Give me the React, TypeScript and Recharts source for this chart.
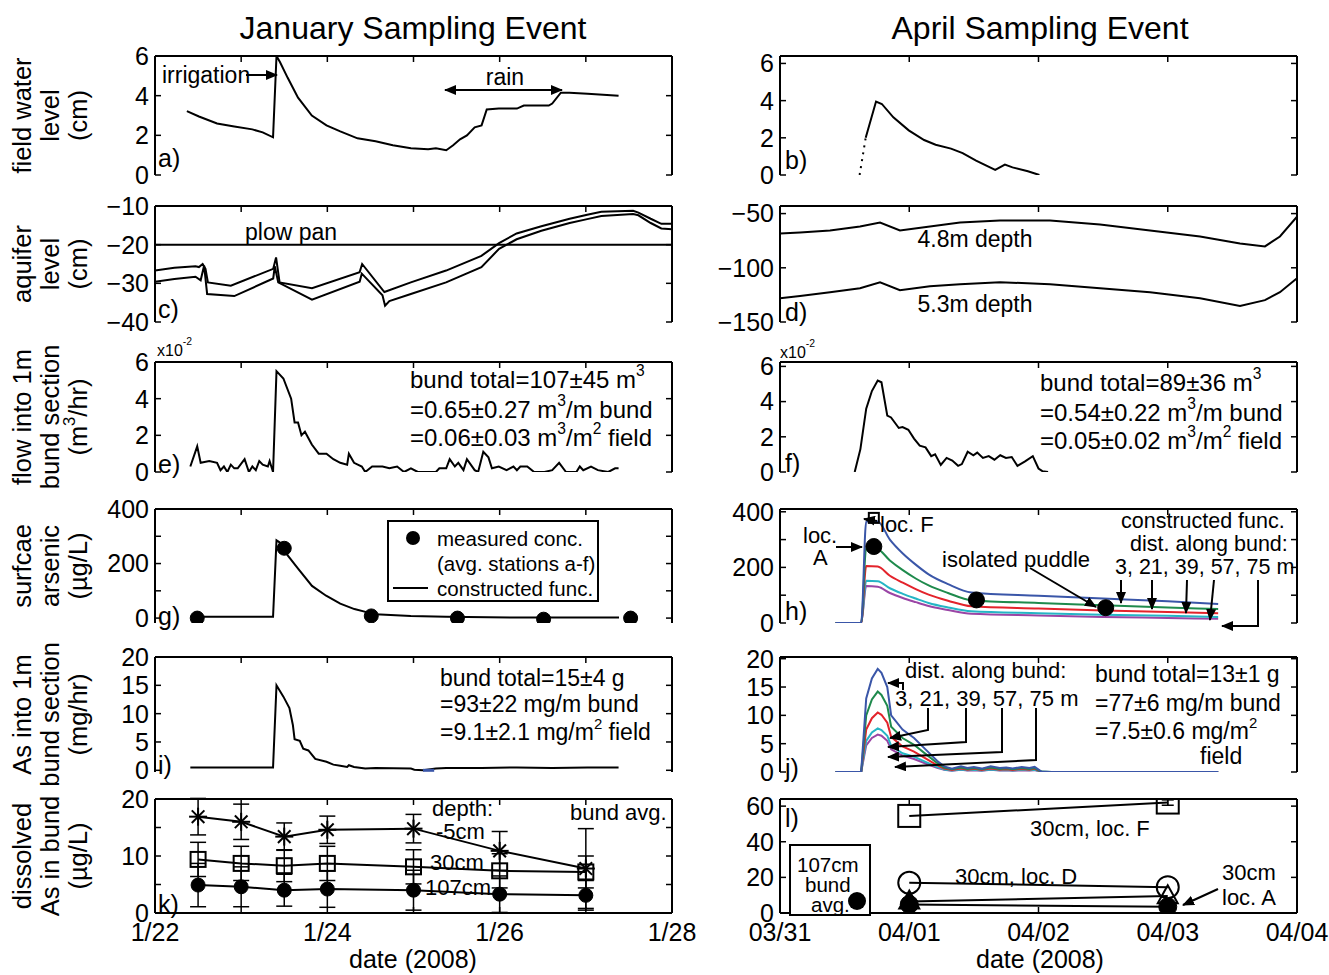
import React from "react";
import { ComposedChart, Line, XAxis, YAxis, ErrorBar, ReferenceLine } from "recharts";

const FONT = "'Liberation Sans', Arial, Helvetica, sans-serif";
const INK = "#000";
const BLUE = "#3a56a8";
const GREEN = "#1e8a4c";
const RED = "#e3232b";
const CYAN = "#25b5c5";
const PURPLE = "#9a45a5";

// ---------- January (x = days after 1/22 00:00) ----------
const janTicks = [0, 1, 2, 3, 4, 5, 6];
const janTickLabels: Record<number, string> = { 0: "1/22", 2: "1/24", 4: "1/26", 6: "1/28" };

// a) field water level (cm)
const aDay = [0.37, 0.51, 0.72, 0.92, 1.13, 1.25, 1.37, 1.41, 1.45, 1.54, 1.66, 1.82, 1.99, 2.15, 2.35, 2.56, 2.76, 2.97, 3.17, 3.26, 3.38, 3.46, 3.54, 3.62, 3.71, 3.79, 3.85, 3.99, 4.2, 4.28, 4.57, 4.61, 4.71, 4.81, 5.02, 5.38];
const aCm = [3.22, 2.95, 2.6, 2.45, 2.3, 2.15, 1.9, 6.0, 5.7, 4.9, 3.9, 3.0, 2.5, 2.2, 1.85, 1.7, 1.5, 1.35, 1.3, 1.35, 1.25, 1.5, 1.8, 2.0, 2.4, 2.5, 3.3, 3.35, 3.35, 3.5, 3.5, 3.6, 4.15, 4.15, 4.1, 4.0];

// c) aquifer level (cm), two piezometers
const cUpDay = [0, 0.225, 0.47, 0.51, 0.553, 0.586, 0.614, 0.88, 1.372, 1.405, 1.446, 1.822, 2.375, 2.404, 2.662, 2.969, 3.378, 3.788, 3.993, 4.197, 4.484, 4.812, 5.016, 5.18, 5.549, 5.61, 5.753, 5.876, 6.0];
const cUpCm = [-26.7, -26.0, -25.6, -25.8, -25.0, -26.25, -29.75, -30.6, -26.25, -23.3, -29.75, -31.25, -27.1, -25.0, -32.25, -29.75, -26.7, -22.9, -19.6, -17.1, -15.25, -13.3, -12.25, -11.5, -11.25, -11.7, -13.3, -14.6, -14.6];
const cLoDay = [0, 0.225, 0.47, 0.53, 0.57, 0.605, 0.92, 1.372, 1.39, 1.43, 1.822, 2.375, 2.4, 2.64, 2.67, 2.72, 2.969, 3.378, 3.788, 3.993, 4.197, 4.484, 4.812, 5.016, 5.18, 5.549, 5.61, 5.753, 5.876, 6.0];
const cLoCm = [-29.6, -28.9, -28.3, -29.2, -25.4, -32.75, -33.3, -28.75, -25.6, -29.75, -34.2, -29.6, -27.5, -33.1, -35.8, -34.6, -32.75, -29.75, -25.8, -21.1, -18.6, -16.4, -14.4, -13.4, -12.6, -12.1, -12.4, -14.4, -15.8, -16.0];
const plowPan = -20;

// e) flow into 1 m bund section (x1e-2 m3/hr)
const eDay = [0.41, 0.49, 0.53, 0.63, 0.72, 0.76, 0.8, 0.84, 0.88, 0.92, 0.96, 1.04, 1.09, 1.13, 1.17, 1.21, 1.25, 1.31, 1.33, 1.37, 1.41, 1.49, 1.58, 1.62, 1.66, 1.7, 1.74, 1.82, 1.9, 1.99, 2.07, 2.15, 2.23, 2.25, 2.31, 2.4, 2.44, 2.52, 2.64, 2.72, 2.81, 2.89, 2.97, 3.05, 3.13, 3.21, 3.26, 3.3, 3.38, 3.42, 3.48, 3.52, 3.58, 3.62, 3.71, 3.75, 3.81, 3.87, 3.91, 3.99, 4.08, 4.16, 4.2, 4.24, 4.32, 4.4, 4.52, 4.61, 4.69, 4.77, 4.89, 4.93, 4.97, 5.06, 5.14, 5.26, 5.34, 5.38];
const eFlow = [0.3, 1.4, 0.5, 0.6, 0.5, 0.1, 0.3, 0.0, 0.4, 0.2, 0.2, 0.7, 0.0, 0.3, 0.1, 0.6, 0.4, 0.3, 0.6, 0.0, 5.5, 5.1, 4.0, 2.7, 2.7, 2.0, 2.2, 1.5, 1.0, 1.0, 0.7, 0.5, 0.4, 1.0, 0.5, 0.3, 0.0, 0.3, 0.3, 0.2, 0.3, 0.0, 0.2, 0.0, 0.0, 0.0, 0.0, 0.2, 0.2, 0.7, 0.3, 0.5, 0.1, 0.7, 0.1, 0.0, 1.1, 0.8, 0.2, 0.3, 0.1, 0.3, 0.1, 0.3, 0.3, 0.0, 0.0, 0.1, 0.5, 0.0, 0.0, 0.3, 0.1, 0.3, 0.1, 0.0, 0.2, 0.2];

// g) surface arsenic (ug/L)
const gFuncDay = [0.49, 1.37, 1.41, 1.454, 1.54, 1.658, 1.822, 1.986, 2.15, 2.314, 2.477, 2.559, 2.969, 3.378, 4.197, 5.385];
const gFuncUg = [5, 5, 285, 276, 230, 182, 118, 82, 53, 33, 20, 14, 8, 5, 2, 2];
const gMeasDay = [0.49, 1.5, 2.51, 3.51, 4.51, 5.52];
const gMeasUg = [0, 256, 8, 0, -4, 0];

// i) As into 1 m bund section (mg/hr)
const iDay = [0.41, 1.33, 1.37, 1.41, 1.49, 1.56, 1.6, 1.62, 1.68, 1.72, 1.78, 1.86, 1.99, 2.07, 2.15, 2.23, 2.25, 2.31, 2.44, 2.56, 2.97, 3.01, 3.11, 3.26, 3.38, 3.79, 4.2, 4.61, 5.02, 5.38];
const iMg = [0.5, 0.5, 0.5, 15.0, 13.0, 11.0, 8.0, 5.5, 5.2, 3.8, 3.5, 2.0, 1.5, 1.0, 0.8, 0.6, 0.9, 0.6, 0.3, 0.4, 0.3, 0.1, 0.0, 0.3, 0.4, 0.4, 0.5, 0.4, 0.5, 0.5];
const iBlueDay = [3.11, 3.24];
const iBlueMg = [0, 0];

// k) dissolved As in bund (ug/L), mean and error
const kDay = [0.5, 1.0, 1.5, 2.0, 3.0, 4.0, 5.0];
const k5cm = [16.9, 16.0, 13.4, 14.6, 14.8, 10.9, 7.8];
const k5cmErr = [3.2, 3.1, 2.4, 2.4, 2.5, 3.4, 7.0];
const k30cm = [9.4, 8.7, 8.3, 8.7, 8.1, 7.4, 7.2];
const k30cmErr = [3.0, 3.0, 2.8, 3.0, 3.0, 3.0, 2.8];
const k107cm = [4.9, 4.6, 4.0, 4.2, 4.0, 3.3, 3.1];
const k107cmErr = [3.8, 3.5, 2.8, 3.2, 3.5, 3.2, 2.6];

// ---------- April (x = days after 03/31 00:00) ----------
const aprTicks = [0, 1, 2, 3, 4];
const aprTickLabels: Record<number, string> = { 0: "03/31", 1: "04/01", 2: "04/02", 3: "04/03", 4: "04/04" };

// b) field water level (cm)
const bDotDay = [0.616, 0.663];
const bDotCm = [0, 2.0];
const bDay = [0.663, 0.743, 0.788, 0.877, 0.996, 1.115, 1.204, 1.323, 1.413, 1.517, 1.665, 1.74, 1.799, 1.918, 2.007];
const bCm = [2.0, 3.95, 3.82, 3.1, 2.4, 1.88, 1.63, 1.42, 1.18, 0.77, 0.28, 0.56, 0.41, 0.2, 0.0];

// d) aquifer level (cm)
const dDay = [0, 0.155, 0.387, 0.619, 0.774, 0.928, 1.16, 1.393, 1.702, 2.089, 2.476, 2.863, 3.25, 3.559, 3.752, 3.868, 4.0];
const d48m = [-68.3, -67.4, -65.6, -61.9, -58.3, -65.6, -61.9, -58.3, -56.4, -56.4, -60.1, -65.6, -71.1, -77.5, -80.3, -71.1, -52.8];
const d53m = [-128, -126, -122.5, -118.8, -113.3, -120.6, -117, -115.1, -113.3, -115.1, -118.8, -122.5, -128, -135.3, -129.8, -122.5, -109.6];

// f) flow into 1 m bund section (x1e-2 m3/hr)
const fDay = [0.578, 0.622, 0.667, 0.711, 0.756, 0.785, 0.83, 0.859, 0.919, 0.948, 0.993, 1.037, 1.081, 1.126, 1.17, 1.2, 1.244, 1.289, 1.333, 1.378, 1.407, 1.452, 1.496, 1.526, 1.57, 1.615, 1.659, 1.704, 1.748, 1.793, 1.837, 1.896, 1.956, 2.0, 2.03, 2.074];
const fFlow = [0, 1.3, 3.6, 4.6, 5.2, 5.1, 3.2, 3.1, 2.5, 2.55, 2.4, 1.9, 1.5, 1.4, 0.9, 1.0, 0.4, 0.8, 0.65, 0.35, 0.45, 1.15, 0.95, 1.1, 0.8, 0.9, 0.7, 0.95, 0.8, 0.85, 0.35, 0.6, 0.9, 0.2, 0.05, 0];

// h) surface arsenic, constructed function at 3, 21, 39, 57, 75 m along bund
const hDay = [0.43, 0.628, 0.667, 0.756, 0.85, 0.95, 1.05, 1.15, 1.3, 1.48, 2.0, 2.5, 3.0, 3.39];
const h3m = [0, 0, 365, 365, 300, 250, 210, 175, 140, 110, 98, 88, 78, 68];
const h21m = [0, 0, 270, 265, 225, 190, 160, 135, 108, 82, 72, 64, 56, 50];
const h39m = [0, 0, 205, 203, 170, 145, 122, 102, 80, 60, 52, 45, 40, 35];
const h57m = [0, 0, 152, 150, 125, 105, 88, 72, 56, 42, 35, 30, 26, 22];
const h75m = [0, 0, 133, 130, 108, 90, 75, 61, 47, 33, 27, 22, 18, 15];
const hMeasDay = [0.726, 1.52, 2.52];
const hMeasUg = [275, 83, 55];
const hLocFDay = [0.726];
const hLocFUg = [378];

// j) As into 1 m bund section (mg/hr) at 3, 21, 39, 57, 75 m
const jDay = [0.43, 0.628, 0.667, 0.711, 0.756, 0.785, 0.83, 0.86, 0.948, 1.037, 1.126, 1.215, 1.27, 1.33, 1.4, 1.45, 1.5, 1.56, 1.63, 1.7, 1.75, 1.8, 1.87, 1.93, 1.97, 2.02, 2.1, 3.39];
const j3m = [0, 0, 13, 16.5, 18.2, 17.5, 15, 10, 7.5, 6, 4, 2, 1.0, 0.6, 1.0, 0.7, 0.9, 0.6, 1.0, 0.7, 0.8, 0.6, 0.9, 0.7, 0.9, 0.1, 0, 0];
const j21m = [0, 0, 10, 12.8, 14.2, 13.6, 11.7, 8, 6, 4.8, 3.2, 1.6, 0.8, 0.5, 0.8, 0.55, 0.7, 0.5, 0.8, 0.55, 0.65, 0.5, 0.7, 0.55, 0.7, 0.08, 0, 0];
const j39m = [0, 0, 7.5, 9.5, 10.5, 10.1, 8.7, 6.2, 4.5, 3.6, 2.4, 1.2, 0.6, 0.35, 0.6, 0.4, 0.55, 0.35, 0.6, 0.4, 0.5, 0.35, 0.55, 0.4, 0.55, 0.06, 0, 0];
const j57m = [0, 0, 5.5, 7.0, 7.7, 7.4, 6.4, 4.6, 3.3, 2.7, 1.8, 0.9, 0.45, 0.27, 0.45, 0.3, 0.4, 0.27, 0.45, 0.3, 0.35, 0.27, 0.4, 0.3, 0.4, 0.05, 0, 0];
const j75m = [0, 0, 4.7, 6.0, 6.6, 6.4, 5.5, 4.0, 2.9, 2.3, 1.5, 0.75, 0.4, 0.22, 0.38, 0.26, 0.33, 0.22, 0.38, 0.26, 0.3, 0.22, 0.33, 0.26, 0.33, 0.04, 0, 0];

// l) dissolved As in bund (ug/L)
const lDay = [1.0, 3.0];
const lLocF = [54.5, 62];
const lLocFErr = [0, 1.5];
const lLocD = [17, 14.5];
const lLocA = [6.5, 9.5];
const l107 = [4.8, 3.5];

// ---------- layout ----------
const BOX_W = 517;
const LEFT_X = 155;
const RIGHT_X = 780;
const ROWS = [
  { top: 56, h: 119 },
  { top: 206, h: 116 },
  { top: 362, h: 110 },
  { top: 509, h: 114 },
  { top: 657, h: 115 },
  { top: 799, h: 114 },
];
const TM = 16;
const RM = 40;
const YW = 80;
const TICK = 6;
const FS = 23;
const TFS = 25;
const tickFont = { fontSize: TFS, fill: INK, fontFamily: FONT };
const axisStroke = { stroke: INK, strokeWidth: 2 };
const tickStroke = { stroke: INK, strokeWidth: 1.5 };

const pts = (xs: number[], ys: number[]) => xs.map((x, i) => ({ x, y: ys[i] }));
const minus = (v: number) => String(v).replace("-", "\u2212");

function Panel({ x, row, xMax, xTicks, xLabels, yDomain, yTicks, yLabels, children }: any) {
  const { top, h } = ROWS[row];
  const XH = xLabels ? 38 : 0;
  const BM = xLabels ? 4 : 16;
  const fmtX = (v: number) => (xLabels ? xLabels[v] ?? "" : "");
  const fmtY = (v: number) => (!yLabels || yLabels.includes(v) ? minus(v) : "");
  // corner points bound to the top/right axes so that they draw the frame
  const corners = [{ x: 0, y: yDomain[0] }, { x: xMax, y: yDomain[1] }];
  return (
    <div style={{ position: "absolute", left: x - YW, top: top - TM }}>
      <ComposedChart width={YW + BOX_W + RM} height={TM + h + XH + BM} margin={{ top: TM - 1, right: RM - 1, bottom: BM, left: 0 }}>
        <XAxis type="number" dataKey="x" domain={[0, xMax]} ticks={xTicks} interval={0} allowDataOverflow height={XH}
          axisLine={axisStroke} tickLine={tickStroke} tickSize={-TICK} tickMargin={TICK + 10} tick={tickFont} tickFormatter={fmtX} />
        <XAxis xAxisId="top" orientation="top" type="number" dataKey="x" domain={[0, xMax]} ticks={xTicks} interval={0} allowDataOverflow height={1}
          axisLine={axisStroke} tickLine={tickStroke} tickSize={-TICK} tickFormatter={() => ""} />
        <YAxis type="number" dataKey="y" domain={yDomain} ticks={yTicks} interval={0} allowDataOverflow width={YW}
          axisLine={axisStroke} tickLine={tickStroke} tickSize={-TICK} tickMargin={TICK + 6} tick={tickFont} tickFormatter={fmtY} />
        <YAxis yAxisId="right" orientation="right" type="number" dataKey="y" domain={yDomain} ticks={yTicks} interval={0} allowDataOverflow width={1}
          axisLine={axisStroke} tickLine={tickStroke} tickSize={-TICK} tickFormatter={() => ""} />
        <Line xAxisId="top" yAxisId="right" data={corners} dataKey="y" stroke="none" dot={false} isAnimationActive={false} />
        {children}
      </ComposedChart>
    </div>
  );
}

// ---------- markers ----------
const none = (p: any) => <g key={p.index} />;
const filledDot = (r: number) => (p: any) =>
  p.cx == null ? none(p) : <circle key={p.index} cx={p.cx} cy={p.cy} r={r} fill={INK} stroke={INK} />;
const openCircle = (r: number) => (p: any) =>
  p.cx == null ? none(p) : <circle key={p.index} cx={p.cx} cy={p.cy} r={r} fill="none" stroke={INK} strokeWidth={2} />;
const openSquare = (s: number) => (p: any) =>
  p.cx == null ? none(p) : <rect key={p.index} x={p.cx - s / 2} y={p.cy - s / 2} width={s} height={s} fill="none" stroke={INK} strokeWidth={2} />;
const star = (r: number) => (p: any) => {
  if (p.cx == null) return none(p);
  const d = r * 0.7;
  return (
    <g key={p.index} stroke={INK} strokeWidth={2}>
      <line x1={p.cx - r} y1={p.cy} x2={p.cx + r} y2={p.cy} />
      <line x1={p.cx} y1={p.cy - r} x2={p.cx} y2={p.cy + r} />
      <line x1={p.cx - d} y1={p.cy - d} x2={p.cx + d} y2={p.cy + d} />
      <line x1={p.cx - d} y1={p.cy + d} x2={p.cx + d} y2={p.cy - d} />
    </g>
  );
};
const triangle = (s: number) => (p: any) => {
  if (p.cx == null) return none(p);
  const h = s * 0.9;
  return (
    <polygon key={p.index} points={`${p.cx},${p.cy - h * 0.6} ${p.cx - s / 2},${p.cy + h * 0.4} ${p.cx + s / 2},${p.cy + h * 0.4}`}
      fill={p.index === 0 ? INK : "none"} stroke={INK} strokeWidth={2} />
  );
};

// ---------- text helpers ----------
function Rich({ x, y, parts, size = FS, anchor = "start" }: any) {
  const out: React.ReactNode[] = [];
  let up = false;
  parts.forEach((t: string, i: number) => {
    if (t.startsWith("^")) {
      out.push(<tspan key={i} dy={-9} fontSize={size * 0.65}>{t.slice(1)}</tspan>);
      up = true;
    } else {
      out.push(<tspan key={i} dy={up ? 9 : 0}>{t}</tspan>);
      up = false;
    }
  });
  return (
    <text x={x} y={y} fontSize={size} fontFamily={FONT} fill={INK} textAnchor={anchor} dominantBaseline="central">{out}</text>
  );
}
const T = (x: number, y: number, s: string, anchor = "start", size = FS) => (
  <Rich key={`${x}-${y}-${s}`} x={x} y={y} parts={[s]} anchor={anchor} size={size} />
);
const arrow = (p: number[][], both = false) => (
  <polyline key={p.join("_")} points={p.map((q) => q.join(",")).join(" ")} fill="none" stroke={INK} strokeWidth={2}
    markerEnd="url(#ah)" markerStart={both ? "url(#ah)" : undefined} />
);

function YLabel({ row, lines }: { row: number; lines: any[][] }) {
  const { top, h } = ROWS[row];
  const cy = top + h / 2;
  return (
    <>
      {lines.map((parts, i) => {
        const x = 22 + i * 28;
        return (
          <g key={i} transform={`rotate(-90 ${x} ${cy})`}>
            <Rich x={x} y={cy} parts={parts} size={25.5} anchor="middle" />
          </g>
        );
      })}
    </>
  );
}

export default function App() {
  const hRows = hDay.map((x, i) => ({ x, b: h3m[i], g: h21m[i], r: h39m[i], c: h57m[i], m: h75m[i] }));
  const jRows = jDay.map((x, i) => ({ x, b: j3m[i], g: j21m[i], r: j39m[i], c: j57m[i], m: j75m[i] }));
  const kRows = kDay.map((x, i) => ({ x, s: k5cm[i], se: k5cmErr[i], q: k30cm[i], qe: k30cmErr[i], c: k107cm[i], ce: k107cmErr[i] }));
  const lRows = lDay.map((x, i) => ({ x, f: lLocF[i], fe: lLocFErr[i], d: lLocD[i], a: lLocA[i], c: l107[i] }));
  const line = { isAnimationActive: false, strokeWidth: 2, type: "linear" as const };

  return (
    <div style={{ position: "absolute", left: 0, top: 0, width: 1329, height: 975, background: "#fff", fontFamily: FONT }}>
      {/* a */}
      <Panel x={LEFT_X} row={0} xMax={6} xTicks={janTicks} yDomain={[0, 6]} yTicks={[0, 2, 4, 6]}>
        <Line {...line} data={pts(aDay, aCm)} dataKey="y" stroke={INK} dot={false} />
      </Panel>
      {/* c */}
      <Panel x={LEFT_X} row={1} xMax={6} xTicks={janTicks} yDomain={[-40, -10]} yTicks={[-40, -30, -20, -10]}>
        <ReferenceLine y={plowPan} stroke={INK} strokeWidth={2} />
        <Line {...line} data={pts(cUpDay, cUpCm)} dataKey="y" stroke={INK} dot={false} />
        <Line {...line} data={pts(cLoDay, cLoCm)} dataKey="y" stroke={INK} dot={false} />
      </Panel>
      {/* e */}
      <Panel x={LEFT_X} row={2} xMax={6} xTicks={janTicks} yDomain={[0, 6]} yTicks={[0, 2, 4, 6]}>
        <Line {...line} data={pts(eDay, eFlow)} dataKey="y" stroke={INK} dot={false} />
      </Panel>
      {/* g */}
      <Panel x={LEFT_X} row={3} xMax={6} xTicks={janTicks} yDomain={[-18, 400]} yTicks={[0, 100, 200, 300, 400]} yLabels={[0, 200, 400]}>
        <Line {...line} data={pts(gFuncDay, gFuncUg)} dataKey="y" stroke={INK} dot={false} />
        <Line {...line} data={pts(gMeasDay, gMeasUg)} dataKey="y" stroke="none" dot={filledDot(7)} />
      </Panel>
      {/* i */}
      <Panel x={LEFT_X} row={4} xMax={6} xTicks={janTicks} yDomain={[-0.3, 20]} yTicks={[0, 5, 10, 15, 20]}>
        <Line {...line} data={pts(iDay, iMg)} dataKey="y" stroke={INK} dot={false} />
        <Line {...line} data={pts(iBlueDay, iBlueMg)} dataKey="y" stroke={BLUE} strokeWidth={3} dot={false} />
      </Panel>
      {/* k */}
      <Panel x={LEFT_X} row={5} xMax={6} xTicks={janTicks} xLabels={janTickLabels} yDomain={[0, 20]} yTicks={[0, 5, 10, 15, 20]} yLabels={[0, 10, 20]}>
        <Line {...line} data={kRows} dataKey="s" stroke={INK} dot={star(9)}>
          <ErrorBar dataKey="se" width={8} stroke={INK} strokeWidth={1.5} direction="y" />
        </Line>
        <Line {...line} data={kRows} dataKey="q" stroke={INK} dot={openSquare(15)}>
          <ErrorBar dataKey="qe" width={8} stroke={INK} strokeWidth={1.5} direction="y" />
        </Line>
        <Line {...line} data={kRows} dataKey="c" stroke={INK} dot={filledDot(7)}>
          <ErrorBar dataKey="ce" width={8} stroke={INK} strokeWidth={1.5} direction="y" />
        </Line>
      </Panel>

      {/* b */}
      <Panel x={RIGHT_X} row={0} xMax={4} xTicks={aprTicks} yDomain={[0, 6.4]} yTicks={[0, 2, 4, 6]}>
        <Line {...line} data={pts(bDotDay, bDotCm)} dataKey="y" stroke={INK} strokeDasharray="2 5" dot={false} />
        <Line {...line} data={pts(bDay, bCm)} dataKey="y" stroke={INK} dot={false} />
      </Panel>
      {/* d */}
      <Panel x={RIGHT_X} row={1} xMax={4} xTicks={aprTicks} yDomain={[-150, -43]} yTicks={[-150, -100, -50]}>
        <Line {...line} data={pts(dDay, d48m)} dataKey="y" stroke={INK} dot={false} />
        <Line {...line} data={pts(dDay, d53m)} dataKey="y" stroke={INK} dot={false} />
      </Panel>
      {/* f */}
      <Panel x={RIGHT_X} row={2} xMax={4} xTicks={aprTicks} yDomain={[0, 6.25]} yTicks={[0, 2, 4, 6]}>
        <Line {...line} data={pts(fDay, fFlow)} dataKey="y" stroke={INK} dot={false} />
      </Panel>
      {/* h */}
      <Panel x={RIGHT_X} row={3} xMax={4} xTicks={aprTicks} yDomain={[0, 410]} yTicks={[0, 100, 200, 300, 400]} yLabels={[0, 200, 400]}>
        <Line {...line} type="monotone" data={hRows} dataKey="m" stroke={PURPLE} dot={false} />
        <Line {...line} type="monotone" data={hRows} dataKey="c" stroke={CYAN} dot={false} />
        <Line {...line} type="monotone" data={hRows} dataKey="r" stroke={RED} dot={false} />
        <Line {...line} type="monotone" data={hRows} dataKey="g" stroke={GREEN} dot={false} />
        <Line {...line} type="monotone" data={hRows} dataKey="b" stroke={BLUE} dot={false} />
        <Line {...line} data={pts(hMeasDay, hMeasUg)} dataKey="y" stroke="none" dot={filledDot(8)} />
        <Line {...line} data={pts(hLocFDay, hLocFUg)} dataKey="y" stroke="none" dot={openSquare(10)} />
      </Panel>
      {/* j */}
      <Panel x={RIGHT_X} row={4} xMax={4} xTicks={aprTicks} yDomain={[0, 20.3]} yTicks={[0, 5, 10, 15, 20]}>
        <Line {...line} data={jRows} dataKey="m" stroke={PURPLE} dot={false} />
        <Line {...line} data={jRows} dataKey="c" stroke={CYAN} dot={false} />
        <Line {...line} data={jRows} dataKey="r" stroke={RED} dot={false} />
        <Line {...line} data={jRows} dataKey="g" stroke={GREEN} dot={false} />
        <Line {...line} data={jRows} dataKey="b" stroke={BLUE} dot={false} />
      </Panel>
      {/* l */}
      <Panel x={RIGHT_X} row={5} xMax={4} xTicks={aprTicks} xLabels={aprTickLabels} yDomain={[0, 64]} yTicks={[0, 20, 40, 60]}>
        <Line {...line} data={lRows} dataKey="f" stroke={INK} dot={openSquare(22)}>
          <ErrorBar dataKey="fe" width={6} stroke={INK} strokeWidth={1.5} direction="y" />
        </Line>
        <Line {...line} data={lRows} dataKey="d" stroke={INK} dot={openCircle(11)} />
        <Line {...line} data={lRows} dataKey="a" stroke={INK} dot={triangle(20)} />
        <Line {...line} data={lRows} dataKey="c" stroke={INK} dot={filledDot(9)} />
      </Panel>

      <svg width={1329} height={975} style={{ position: "absolute", left: 0, top: 0, pointerEvents: "none" }}>
        <defs>
          <marker id="ah" viewBox="0 0 12 10" refX="11" refY="5" markerWidth="12" markerHeight="10" orient="auto-start-reverse" markerUnits="userSpaceOnUse">
            <path d="M0,0 L12,5 L0,10 z" fill={INK} />
          </marker>
        </defs>

        {T(413, 28, "January Sampling Event", "middle", 32)}
        {T(1040, 28, "April Sampling Event", "middle", 32)}
        {T(413, 959, "date (2008)", "middle", 25)}
        {T(1040, 959, "date (2008)", "middle", 25)}

        <YLabel row={0} lines={[["field water"], ["level"], ["(cm)"]]} />
        <YLabel row={1} lines={[["aquifer"], ["level"], ["(cm)"]]} />
        <YLabel row={2} lines={[["flow into 1m"], ["bund section"], ["(m", "^3", "/hr)"]]} />
        <YLabel row={3} lines={[["surfcae"], ["arsenic"], ["(\u00b5g/L)"]]} />
        <YLabel row={4} lines={[["As into 1m"], ["bund section"], ["(mg/hr)"]]} />
        <YLabel row={5} lines={[["dissolved"], ["As in bund"], ["(\u00b5g/L)"]]} />

        {/* panel letters */}
        {T(158, 158, "a)", "start", 25)}
        {T(785, 160, "b)", "start", 25)}
        {T(158, 309, "c)", "start", 25)}
        {T(785, 312, "d)", "start", 25)}
        {T(158, 464, "e)", "start", 25)}
        {T(785, 463, "f)", "start", 25)}
        {T(158, 616, "g)", "start", 25)}
        {T(785, 611, "h)", "start", 25)}
        {T(158, 765, "i)", "start", 25)}
        {T(785, 768, "j)", "start", 25)}
        {T(158, 904, "k)", "start", 25)}
        {T(785, 818, "l)", "start", 25)}

        {/* a */}
        {T(162, 75, "irrigation")}
        {arrow([[246, 75], [277, 75]])}
        {T(505, 77, "rain", "middle")}
        {arrow([[445, 90], [562, 90]], true)}
        {/* c, d */}
        {T(245, 232, "plow pan")}
        {T(975, 239, "4.8m depth", "middle")}
        {T(975, 304, "5.3m depth", "middle")}
        {/* e, f */}
        <Rich x={157} y={350} parts={["x10", "^-2"]} size={16} />
        <Rich x={780} y={352} parts={["x10", "^-2"]} size={16} />
        <Rich x={410} y={379} parts={["bund total=107\u00b145 m", "^3"]} size={24} />
        <Rich x={410} y={409} parts={["=0.65\u00b10.27 m", "^3", "/m bund"]} size={24} />
        <Rich x={410} y={437} parts={["=0.06\u00b10.03 m", "^3", "/m", "^2", " field"]} size={24} />
        <Rich x={1040} y={382} parts={["bund total=89\u00b136 m", "^3"]} size={24} />
        <Rich x={1040} y={412} parts={["=0.54\u00b10.22 m", "^3", "/m bund"]} size={24} />
        <Rich x={1040} y={440} parts={["=0.05\u00b10.02 m", "^3", "/m", "^2", " field"]} size={24} />
        {/* g legend */}
        <rect x={388} y={521} width={210} height={80} fill="#fff" stroke={INK} strokeWidth={2} />
        <circle cx={413} cy={538} r={7} fill={INK} />
        {T(437, 538, "measured conc.", "start", 20.5)}
        {T(437, 563, "(avg. stations a-f)", "start", 20.5)}
        <line x1={393} y1={588} x2={428} y2={588} stroke={INK} strokeWidth={2} />
        {T(437, 588, "constructed func.", "start", 20.5)}
        {/* h */}
        {T(880, 524, "loc. F", "start", 22)}
        {arrow([[877, 521], [864, 519]])}
        {T(803, 535, "loc.", "start", 22)}
        {T(813, 557, "A", "start", 22)}
        {arrow([[836, 547], [862, 547]])}
        {T(942, 559, "isolated puddle", "start", 22)}
        {arrow([[1030, 568], [1096, 607]])}
        {T(1121, 521, "constructed func.", "start", 21.5)}
        {T(1130, 544, "dist. along bund:", "start", 21.5)}
        {T(1115, 567, "3, 21, 39, 57, 75 m", "start", 21.5)}
        {arrow([[1121, 580], [1121, 603]])}
        {arrow([[1152, 580], [1152, 609]])}
        {arrow([[1187, 580], [1186, 613]])}
        {arrow([[1214, 580], [1210, 620]])}
        {arrow([[1258, 580], [1258, 626], [1222, 626]])}
        {/* i */}
        {T(440, 678, "bund total=15\u00b14 g")}
        {T(440, 704, "=93\u00b122 mg/m bund")}
        <Rich x={440} y={732} parts={["=9.1\u00b12.1 mg/m", "^2", " field"]} />
        {/* j */}
        {T(905, 670, "dist. along bund:", "start", 22)}
        {T(895, 698, "3, 21, 39, 57, 75 m", "start", 22)}
        {arrow([[903, 690], [903, 683], [888, 683]])}
        {arrow([[928, 708], [928, 730], [890, 738]])}
        {arrow([[966, 708], [966, 742], [888, 747]])}
        {arrow([[1002, 708], [1002, 752], [888, 757]])}
        {arrow([[1036, 708], [1036, 760], [895, 767]])}
        {T(1095, 674, "bund total=13\u00b11 g")}
        {T(1095, 703, "=77\u00b16 mg/m bund")}
        <Rich x={1095} y={731} parts={["=7.5\u00b10.6 mg/m", "^2"]} />
        {T(1200, 756, "field")}
        {/* k */}
        {T(432, 808, "depth:", "start", 22)}
        {T(436, 831, "-5cm", "start", 22)}
        {T(430, 862, "30cm", "start", 22)}
        {T(425, 887, "107cm", "start", 22)}
        {T(570, 812, "bund avg.", "start", 22)}
        {/* l */}
        {T(1030, 828, "30cm, loc. F", "start", 22)}
        {T(955, 876, "30cm, loc. D", "start", 22)}
        {T(1222, 872, "30cm", "start", 22)}
        {T(1222, 897, "loc. A", "start", 22)}
        {arrow([[1218, 889], [1183, 905]])}
        <rect x={790} y={845} width={80} height={70} fill="#fff" stroke={INK} strokeWidth={2} />
        {T(797, 864, "107cm", "start", 20.5)}
        {T(805, 884, "bund", "start", 20.5)}
        {T(811, 904, "avg.", "start", 20.5)}
        <circle cx={857} cy={901} r={9} fill={INK} />
      </svg>
    </div>
  );
}
